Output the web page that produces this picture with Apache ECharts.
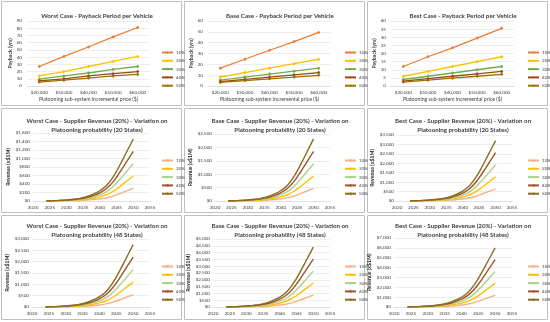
<!DOCTYPE html>
<html><head><meta charset="utf-8">
<script src="https://cdn.jsdelivr.net/npm/echarts@6/dist/echarts.min.js"></script>
<style>html,body{margin:0;padding:0;background:#fff}#c{width:550px;height:322px}</style>
</head><body><div id="c"></div>
<script>
// ---------- DATA ----------
const seriesNames = ['10%', '20%', '30%', '40%', '50%'];
const priceCats = ['$20,000', '$30,000', '$40,000', '$50,000', '$60,000'];
const years = [2024, 2026, 2028, 2030, 2032, 2034, 2036, 2038, 2040, 2042, 2044, 2046, 2048, 2050];

// Payback (yrs)
const worstPayback = [
  [27, 41, 54, 68, 81],
  [14, 20, 27, 34, 41],
  [9.5, 14, 18, 23, 27],
  [7, 10, 14, 17, 20],
  [5.5, 8, 11, 14, 16]
];
const basePayback = [
  [16.5, 24.7, 33, 41, 49.5],
  [8.3, 12.4, 16.5, 20.6, 24.7],
  [5.5, 8.2, 11, 13.7, 16.5],
  [4.1, 6.2, 8.2, 10.3, 12.4],
  [3.3, 5, 6.6, 8.2, 9.9]
];
const bestPayback = [
  [12, 18, 23.5, 29.5, 35.5],
  [6, 9, 12, 15, 18],
  [4, 6, 8, 10, 12],
  [3, 4.5, 6, 7.5, 9],
  [2.4, 3.6, 4.8, 6, 7.2]
];

// Supplier revenue (x$1M), 20 states
const worst20 = [
  [0, 1, 3, 5, 8, 13, 20, 33, 50, 75, 117, 174, 237, 300],
  [0, 2, 6, 11, 17, 25, 40, 65, 97, 148, 230, 342, 466, 590],
  [0, 4, 9, 16, 25, 38, 60, 97, 145, 220, 343, 510, 695, 880],
  [0, 5, 12, 21, 33, 50, 80, 129, 193, 293, 456, 679, 924, 1170],
  [0, 6, 15, 26, 41, 63, 99, 161, 241, 365, 569, 847, 1153, 1460]
];
const base20 = [
  [0, 2, 5, 8, 13, 20, 32, 52, 78, 118, 183, 273, 371, 470],
  [0, 4, 9, 17, 26, 40, 63, 102, 153, 233, 363, 539, 735, 930],
  [0, 6, 14, 25, 39, 60, 95, 153, 229, 348, 542, 806, 1098, 1390],
  [0, 7, 19, 33, 52, 80, 126, 204, 305, 463, 722, 1073, 1462, 1850],
  [0, 9, 23, 42, 65, 100, 158, 255, 383, 580, 905, 1346, 1833, 2320]
];
const best20 = [
  [0, 3, 6, 12, 18, 28, 44, 70, 106, 160, 250, 371, 506, 640],
  [0, 5, 13, 23, 36, 55, 87, 141, 211, 320, 499, 742, 1011, 1280],
  [0, 8, 19, 35, 54, 83, 131, 211, 317, 480, 749, 1114, 1517, 1920],
  [0, 10, 26, 46, 72, 110, 174, 282, 422, 640, 998, 1485, 2022, 2560],
  [0, 13, 32, 58, 90, 138, 218, 352, 528, 800, 1248, 1856, 2528, 3200]
];
// Supplier revenue (x$1M), 48 states
const worst48 = [
  [0, 2, 6, 10, 15, 24, 37, 61, 91, 138, 215, 319, 435, 550],
  [0, 4, 11, 20, 31, 47, 75, 121, 182, 275, 429, 638, 869, 1100],
  [0, 7, 17, 30, 46, 71, 112, 182, 272, 413, 644, 957, 1304, 1650],
  [0, 9, 22, 40, 62, 95, 150, 242, 363, 550, 858, 1276, 1738, 2200],
  [0, 11, 28, 50, 77, 118, 187, 303, 454, 688, 1073, 1595, 2173, 2750]
];
const base48 = [
  [0, 4, 9, 16, 25, 38, 60, 97, 145, 220, 343, 510, 695, 880],
  [0, 7, 18, 32, 49, 76, 120, 194, 290, 440, 686, 1021, 1390, 1760],
  [0, 11, 26, 48, 74, 114, 180, 290, 436, 660, 1030, 1531, 2086, 2640],
  [0, 14, 35, 63, 99, 151, 239, 387, 581, 880, 1373, 2042, 2781, 3520],
  [0, 18, 44, 79, 123, 189, 299, 484, 726, 1100, 1716, 2552, 3476, 4400]
];
const best48 = [
  [0, 5, 12, 22, 34, 52, 82, 132, 198, 300, 468, 696, 948, 1200],
  [0, 10, 24, 43, 67, 103, 163, 264, 396, 600, 936, 1392, 1896, 2400],
  [0, 14, 36, 65, 101, 155, 245, 396, 594, 900, 1404, 2088, 2844, 3600],
  [0, 19, 48, 86, 134, 206, 326, 528, 792, 1200, 1872, 2784, 3792, 4800],
  [0, 24, 60, 108, 168, 258, 408, 660, 990, 1500, 2340, 3480, 4740, 6000]
];

// ---------- LAYOUT / STYLE ----------
const FONT = 'Lato';
const paybackColors = ['#ED7D31', '#FFC000', '#70AD47', '#9E480E', '#997300'];
const revenueColors = ['#F4B183', '#FFC000', '#A9D18E', '#A0522D', '#8C6D1F'];

const panels = [
  {col:0,row:0,kind:'pay',title:'Worst Case - Payback Period per Vehicle',data:worstPayback,max:90,interval:10,g:[27,150,21,86]},
  {col:1,row:0,kind:'pay',title:'Base Case - Payback Period per Vehicle',data:basePayback,max:60,interval:10,g:[25,148,21,86]},
  {col:2,row:0,kind:'pay',title:'Best Case - Payback Period per Vehicle',data:bestPayback,max:40,interval:5,g:[25,148,21,86]},
  {col:0,row:1,kind:'rev',title:'Worst Case - Supplier Revenue (20%) - Variation on\nPlatooning probability (20 States)',data:worst20,max:1600,interval:200,g:[33,150,26,94]},
  {col:1,row:1,kind:'rev',title:'Base Case - Supplier Revenue (20%) - Variation on\nPlatooning probability (20 States)',data:base20,max:2500,interval:500,g:[32,147,27,94]},
  {col:2,row:1,kind:'rev',title:'Best Case - Supplier Revenue (20%) - Variation on\nPlatooning probability (20 States)',data:best20,max:3500,interval:500,g:[31,146,28,94]},
  {col:0,row:2,kind:'rev',title:'Worst Case - Supplier Revenue (20%) - Variation on\nPlatooning probability (48 States)',data:worst48,max:3000,interval:500,g:[32,150,25,93]},
  {col:1,row:2,kind:'rev',title:'Base Case - Supplier Revenue (20%) - Variation on\nPlatooning probability (48 States)',data:base48,max:5000,interval:500,g:[30,147,25,93]},
  {col:2,row:2,kind:'rev',title:'Best Case - Supplier Revenue (20%) - Variation on\nPlatooning probability (48 States)',data:best48,max:7000,interval:1000,g:[28,146,24,93]}
];
const colX = [0, 183, 366];
const rowY = [0, 107, 214];

const option = {
  animation: false,
  backgroundColor: '#fff',
  textStyle: {fontFamily: FONT},
  title: [], grid: [], xAxis: [], yAxis: [], series: [], legend: [], graphic: []
};

const labelStyle = {color: '#404040', fontSize: 4.6, fontFamily: FONT};
const money = v => '$' + v.toLocaleString('en-US');

panels.forEach((p, i) => {
  const ox = colX[p.col], oy = rowY[p.row];
  const [gl, gr, gt, gb] = p.g;
  option.graphic.push({type: 'rect', silent: true, z: -1,
    shape: {x: ox + 1.5, y: oy + 1.5, width: 180, height: 104},
    style: {fill: '#fff', stroke: '#c0c0c0', lineWidth: 1}});
  option.title.push({
    text: p.title, left: ox + 92, top: oy + (p.kind === 'pay' ? 7 : (p.row === 1 ? 5 : 3)), textAlign: 'center',
    textStyle: {fontSize: 6.2, fontWeight: 'bold', color: '#404040', fontFamily: FONT, lineHeight: 9}
  });
  option.grid.push({left: ox + gl, width: gr - gl, top: oy + gt, height: gb - gt, containLabel: false});
  if (p.kind === 'pay') {
    option.xAxis.push({
      type: 'category', gridIndex: i, data: priceCats, boundaryGap: true,
      axisLine: {lineStyle: {color: '#d9d9d9', width: 0.7}}, axisTick: {show: false},
      axisLabel: Object.assign({margin: 4}, labelStyle),
      name: 'Platooning sub-system incremental price ($)', nameLocation: 'middle', nameGap: 11,
      nameTextStyle: {fontSize: 5.2, color: '#404040', fontFamily: FONT}
    });
    option.yAxis.push({
      type: 'value', gridIndex: i, min: 0, max: p.max, interval: p.interval,
      axisLine: {show: false}, axisTick: {show: false},
      axisLabel: Object.assign({margin: 5}, labelStyle),
      splitLine: {lineStyle: {color: '#e3e3e3', width: 0.6}},
      name: 'Payback (yrs)', nameLocation: 'middle', nameGap: 12, nameRotate: 90,
      nameTextStyle: {fontSize: 5.2, fontWeight: 'bold', color: '#404040', fontFamily: FONT}
    });
  } else {
    option.xAxis.push({
      type: 'value', gridIndex: i, min: 2020, max: 2055, interval: 5,
      axisLine: {show: true, onZero: false, lineStyle: {color: '#d9d9d9', width: 0.7}}, axisTick: {show: false},
      splitLine: {show: false},
      axisLabel: Object.assign({margin: 4, formatter: v => String(v)}, labelStyle)
    });
    option.yAxis.push({
      type: 'value', gridIndex: i, min: 0, max: p.max, interval: p.interval,
      axisLine: {show: false}, axisTick: {show: false},
      axisLabel: Object.assign({margin: 3, formatter: money}, labelStyle),
      splitLine: {lineStyle: {color: '#e3e3e3', width: 0.6}},
      name: 'Revenue (x$1M)', nameLocation: 'middle', nameGap: 22, nameRotate: 90,
      nameTextStyle: {fontSize: 5.2, fontWeight: 'bold', color: '#262626', fontFamily: FONT}
    });
  }
  const colors = p.kind === 'pay' ? paybackColors : revenueColors;
  const legendData = [];
  seriesNames.forEach((nm, k) => {
    const sname = 'p' + i + '|' + nm;
    legendData.push(sname);
    const s = {
      name: sname, type: 'line', xAxisIndex: i, yAxisIndex: i,
      color: colors[k],
      lineStyle: {color: colors[k], width: p.kind === 'pay' ? 1.3 : 1.4},
      itemStyle: {color: colors[k]},
      silent: true
    };
    if (p.kind === 'pay') {
      s.data = p.data[k];
      s.symbol = 'diamond'; s.symbolSize = 3.5; s.showSymbol = true;
    } else {
      s.data = years.map((y, j) => [y, p.data[k][j]]);
      s.smooth = 0.4; s.showSymbol = false; s.symbol = 'none';
    }
    option.series.push(s);
  });
  option.legend.push({
    data: legendData, orient: 'vertical',
    left: ox + 156, top: oy + (p.kind === 'pay' ? 45 : (p.row === 1 ? 46 : 45)),
    itemWidth: 11, itemHeight: 3, itemGap: 3.3,
    formatter: n => n.split('|')[1],
    textStyle: {fontSize: 4.6, color: '#404040', fontFamily: FONT, padding: [0, 0, 0, -2]},
    selectedMode: false
  });
});

const chart = echarts.init(document.getElementById('c'), null, {renderer: 'canvas'});
chart.setOption(option);
</script>
</body></html>
